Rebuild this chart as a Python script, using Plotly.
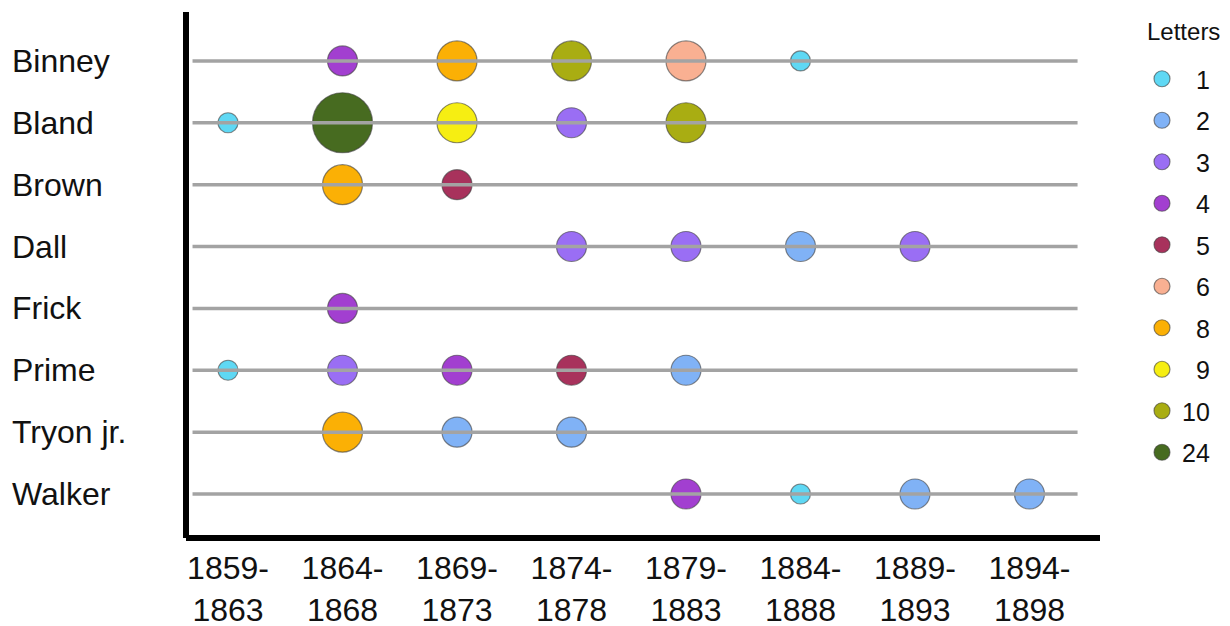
import plotly.graph_objects as go

# ---------------- data ----------------
period_labels = ["1859-<br>1863", "1864-<br>1868", "1869-<br>1873", "1874-<br>1878",
                 "1879-<br>1883", "1884-<br>1888", "1889-<br>1893", "1894-<br>1898"]
names = ["Binney", "Bland", "Brown", "Dall", "Frick", "Prime", "Tryon jr.", "Walker"]

# letters per period (None = no letters)
binney = [None, 4, 8, 10, 6, 1, None, None]
bland = [1, 24, 9, 3, 10, None, None, None]
brown = [None, 8, 5, None, None, None, None, None]
dall = [None, None, None, 3, 3, 2, 3, None]
frick = [None, 4, None, None, None, None, None, None]
prime = [1, 3, 4, 5, 2, None, None, None]
tryon = [None, 8, 2, 2, None, None, None, None]
walker = [None, None, None, None, 4, 1, 2, 2]
rows = [binney, bland, brown, dall, frick, prime, tryon, walker]

letter_counts = [1, 2, 3, 4, 5, 6, 8, 9, 10, 24]

# ---------------- styles ----------------
count_colors = ["#5fd8f4", "#80b2f6", "#9a6ef4", "#a23fd0", "#a8325c",
                "#f9b092", "#fbb005", "#f6ee12", "#a9ad12", "#476b20"]
count_diam = [20, 30, 30, 30, 30, 40, 40, 40, 40, 60]

OFF = 8  # page body margin
W, H = 1230, 626
L, T = 186 - OFF, 12 - OFF
PW, PH = 914, 526
R, B = W - L - PW, H - T - PH

def px_x(px):
    """page x pixel -> paper x"""
    return (px - OFF - L) / PW

def px_y(py):
    """page y pixel -> paper y"""
    return (T + PH - (py - OFF)) / PH

fig = go.Figure()

n = len(names)
for c, col, d in zip(letter_counts, count_colors, count_diam):
    xs, ys = [], []
    for r, vals in enumerate(rows):
        for i, v in enumerate(vals):
            if v == c:
                xs.append(i)
                ys.append(n - 1 - r)
    fig.add_trace(go.Scatter(
        x=xs, y=ys, mode="markers", name=str(c) if c >= 10 else "\u2007" + str(c),
        legendgroup=str(c),
        marker=dict(size=d, color=col, line=dict(color="rgba(60,60,60,0.6)", width=1.2)),
        hoverinfo="skip",
    ))

# gray lines on top of bubbles
for r in range(n):
    fig.add_trace(go.Scatter(
        x=[-0.31, 7.42], y=[n - 1 - r] * 2, mode="lines",
        line=dict(color="#a3a3a3", width=3.5), showlegend=False, hoverinfo="skip",
    ))

# row labels (left aligned)
for r, nm in enumerate(names):
    fig.add_annotation(
        x=px_x(10), xref="paper", y=n - 1 - r, yref="y",
        text=nm, showarrow=False, xanchor="left", yanchor="middle",
        font=dict(size=32, color="#111"),
    )

# legend title
fig.add_annotation(
    x=px_x(1145), xref="paper", y=px_y(32), yref="paper",
    text="Letters", showarrow=False, xanchor="left", yanchor="middle",
    font=dict(size=24, color="#111"),
)

# black axis lines
fig.add_shape(type="line", xref="paper", yref="paper", x0=0, x1=0, y0=0, y1=1,
              line=dict(color="black", width=6))
fig.add_shape(type="line", xref="paper", yref="paper", x0=0, x1=1, y0=0, y1=0,
              line=dict(color="black", width=6))

fig.update_layout(
    width=W, height=H,
    margin=dict(l=L, r=R, t=T, b=B),
    paper_bgcolor="white", plot_bgcolor="white",
    font=dict(family="Liberation Sans, Arial, sans-serif", color="#111"),
    xaxis=dict(range=[-0.367, 7.616], tickvals=list(range(8)), ticktext=period_labels,
               showgrid=False, zeroline=False, showline=False, ticks="",
               tickfont=dict(size=32, color="#111"), ticklabelstandoff=8),
    yaxis=dict(range=[-0.711, 7.79], showgrid=False, zeroline=False,
               showticklabels=False, showline=False, ticks=""),
    legend=dict(
        x=px_x(1142), xanchor="left", y=px_y(56), yanchor="top",
        font=dict(size=25, color="#111"), itemsizing="trace",
        tracegroupgap=6, bgcolor="rgba(0,0,0,0)",
    ),
)

fig.write_html("out.html")
